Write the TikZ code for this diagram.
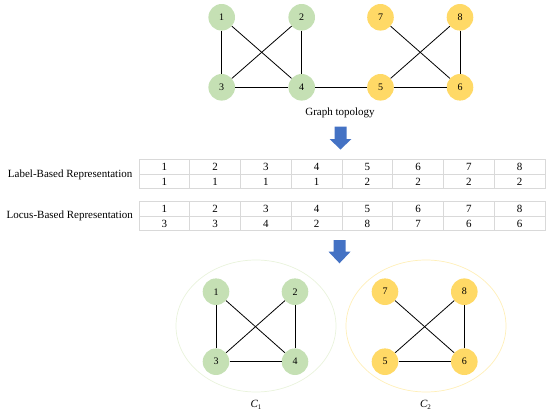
\documentclass[tikz,border=0pt]{standalone}
\usepackage{fontspec}
\setmainfont{Liberation Serif}
\definecolor{ngreen}{HTML}{C5E0B4}
\definecolor{nyellow}{HTML}{FFD966}
\definecolor{ablue}{HTML}{4472C4}
\definecolor{tgray}{HTML}{D9D9D9}
\definecolor{egreen}{HTML}{E9F3DC}
\definecolor{eyellow}{HTML}{FFEFB8}
\begin{document}
\begin{tikzpicture}[x=1pt,y=-1pt,
  gnode/.style={circle,fill=ngreen,minimum size=26.6pt,inner sep=0pt,font=\fontsize{10}{12}\selectfont},
  ynode/.style={gnode,fill=nyellow},
  edge/.style={line width=0.8pt,black},
  cell/.style={inner sep=0pt,font=\fontsize{11}{13}\selectfont},
  rowlabel/.style={anchor=east,inner sep=0pt,font=\fontsize{11}{13}\selectfont},
  grid/.style={draw=tgray,line width=0.7pt},
  blockarrow/.style={fill=ablue,draw=none},
  clusterG/.style={draw=egreen,line width=0.7pt},
  clusterY/.style={draw=eyellow,line width=0.7pt},
  caption/.style={inner sep=0pt,font=\fontsize{11}{13}\selectfont}]
\useasboundingbox (0,0) rectangle (550,415);

% ---- top graph ----
\node[gnode] (t1) at (221.7,17.3) {1};
\node[gnode] (t2) at (301.7,17.3) {2};
\node[gnode] (t3) at (221.7,87.3) {3};
\node[gnode] (t4) at (301.7,87.3) {4};
\node[ynode] (t7) at (380.5,17.3) {7};
\node[ynode] (t8) at (460,17.3) {8};
\node[ynode] (t5) at (380.5,87.3) {5};
\node[ynode] (t6) at (460,87.3) {6};
\draw[edge] (t1) -- (t3);
\draw[edge] (t1) -- (t4);
\draw[edge] (t2) -- (t3);
\draw[edge] (t2) -- (t4);
\draw[edge] (t3) -- (t4);
\draw[edge] (t4) -- (t5);
\draw[edge] (t5) -- (t6);
\draw[edge] (t7) -- (t6);
\draw[edge] (t8) -- (t5);
\draw[edge] (t8) -- (t6);
\node[caption] (topo) at (340,112.5) {Graph topology};

% ---- arrow 1 ----
\fill[blockarrow] (334.5,126.7) -- (346.5,126.7) -- (346.5,139) -- (351.5,139)
  -- (340.5,149.5) -- (329.5,139) -- (334.5,139) -- cycle;

% ---- label-based table ----
\node[rowlabel] (lblL) at (132.5,174.5) {Label-Based Representation};
\draw[grid] (139,159.5) rectangle (545,188.5);
\draw[grid] (139,174) -- (545,174);
\foreach \c in {1,...,7} {\draw[grid] (139+50.75*\c,159.5) -- (139+50.75*\c,188.5);}
\foreach \v [count=\k] in {1,2,3,4,5,6,7,8}
  {\node[cell] (la\k) at (139+50.75*\k-25.375,167) {\v};}
\foreach \v [count=\k] in {1,1,1,1,2,2,2,2}
  {\node[cell] (lb\k) at (139+50.75*\k-25.375,181.5) {\v};}

% ---- locus-based table ----
\node[rowlabel] (lblC) at (133,215.5) {Locus-Based Representation};
\draw[grid] (139,201.5) rectangle (545,230.5);
\draw[grid] (139,216) -- (545,216);
\foreach \c in {1,...,7} {\draw[grid] (139+50.75*\c,201.5) -- (139+50.75*\c,230.5);}
\foreach \v [count=\k] in {1,2,3,4,5,6,7,8}
  {\node[cell] (ca\k) at (139+50.75*\k-25.375,209) {\v};}
\foreach \v [count=\k] in {3,3,4,2,8,7,6,6}
  {\node[cell] (cb\k) at (139+50.75*\k-25.375,223.5) {\v};}

% ---- arrow 2 ----
\fill[blockarrow] (333.5,240) -- (345.5,240) -- (345.5,251.7) -- (350.5,251.7)
  -- (339.5,263.3) -- (328.5,251.7) -- (333.5,251.7) -- cycle;

% ---- clusters ----
\draw[clusterG] (256,326) ellipse [x radius=80pt, y radius=66pt];
\draw[clusterY] (426,326) ellipse [x radius=80pt, y radius=66pt];

\node[gnode] (b1) at (216,291.7) {1};
\node[gnode] (b2) at (295,291.7) {2};
\node[gnode] (b3) at (216,361.7) {3};
\node[gnode] (b4) at (295,361.7) {4};
\draw[edge] (b1) -- (b3);
\draw[edge] (b1) -- (b4);
\draw[edge] (b2) -- (b3);
\draw[edge] (b2) -- (b4);
\draw[edge] (b3) -- (b4);

\node[ynode] (b7) at (385,291.7) {7};
\node[ynode] (b8) at (464.3,291.7) {8};
\node[ynode] (b5) at (385,361.7) {5};
\node[ynode] (b6) at (464.3,361.7) {6};
\draw[edge] (b7) -- (b6);
\draw[edge] (b8) -- (b5);
\draw[edge] (b8) -- (b6);
\draw[edge] (b5) -- (b6);

\node[caption] (c1) at (256,405) {\textit{C}\raisebox{-0.4ex}{\fontsize{7}{8}\selectfont 1}};
\node[caption] (c2) at (425.5,405) {\textit{C}\raisebox{-0.4ex}{\fontsize{7}{8}\selectfont 2}};
\end{tikzpicture}
\end{document}
